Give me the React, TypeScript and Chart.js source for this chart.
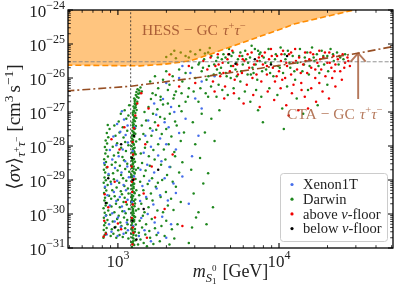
import { useEffect, useRef } from 'react';
import { Chart, registerables } from 'chart.js';

Chart.register(...registerables);

// ---------- axis ranges & ticks ----------
const X_MIN = 490;
const X_MAX = 51000;
const Y_MIN = 1e-31;
const Y_MAX = 1e-24;
const xMajorExps = [3, 4];
const yMajorExps = [-31, -30, -29, -28, -27, -26, -25, -24];

// ---------- reference lines (log10 GeV, log10 cm^3/s) ----------
const relicLevel = 3e-26;
const vLineMass = 1200;
const hessCurve: [number, number][] = [
  [2.68, -25.622], [3.0, -25.637], [3.1375, -25.643], [3.294, -25.593], [3.45, -25.496],
  [3.575, -25.298], [3.719, -25.053], [3.8875, -24.767], [4.0125, -24.56], [4.094, -24.413],
  [4.306, -24.177], [4.494, -23.97], [4.64, -23.79],
];
const ctaCurve: [number, number][] = [
  [2.68, -26.38], [3.081, -26.242], [3.5125, -25.976], [3.8875, -25.711], [4.1375, -25.534],
  [4.494, -25.268], [4.72, -25.062],
];
const arrowMass = 3.1e4;
const arrowFrom = 2.4e-27;
const arrowTo = 5.4e-26;

const hessLabel = 'HESS − GC';
const ctaLabel = 'CTA − GC';
const legendLabels = ['Xenon1T', 'Darwin', 'above ν-floor', 'below ν-floor'];

// ---------- scan points (log10 m [GeV], log10 <σv>) ----------
const darwinPts: [number, number][] = [
  // dense column just above 1.2 TeV
  [3.087,-30.97],[3.101,-30.91],[3.093,-30.86],[3.084,-30.83],[3.109,-30.77],[3.096,-30.72],[3.089,-30.69],[3.113,-30.63],[3.083,-30.58],[3.098,-30.55],
  [3.091,-30.49],[3.106,-30.44],[3.086,-30.41],[3.095,-30.37],[3.111,-30.31],[3.088,-30.26],[3.100,-30.22],[3.084,-30.17],[3.093,-30.13],[3.107,-30.09],
  [3.090,-30.03],[3.097,-29.98],[3.085,-29.96],[3.112,-29.90],[3.094,-29.85],[3.087,-29.80],[3.103,-29.77],[3.091,-29.71],[3.083,-29.66],[3.099,-29.62],
  [3.108,-29.57],[3.089,-29.53],[3.095,-29.47],[3.086,-29.44],[3.104,-29.39],[3.092,-29.33],[3.114,-29.30],[3.088,-29.26],[3.097,-29.20],[3.084,-29.16],
  [3.101,-29.11],[3.093,-29.07],[3.090,-29.01],[3.109,-28.97],[3.086,-28.92],[3.096,-28.88],[3.083,-28.84],[3.102,-28.78],[3.091,-28.74],[3.112,-28.70],
  [3.088,-28.65],[3.098,-28.60],[3.085,-28.57],[3.094,-28.51],[3.106,-28.46],[3.089,-28.42],[3.100,-28.38],[3.084,-28.33],[3.095,-28.28],[3.110,-28.24],
  [3.087,-28.19],[3.097,-28.14],[3.092,-28.10],[3.104,-28.05],[3.085,-28.01],[3.099,-27.96],[3.090,-27.91],[3.113,-27.87],[3.094,-27.82],[3.087,-27.78],
  [3.101,-27.73],[3.092,-27.68],[3.108,-27.64],[3.096,-27.59],[3.089,-27.55],[3.103,-27.50],[3.094,-27.45],[3.111,-27.41],[3.098,-27.36],[3.091,-27.31],
  [3.105,-27.27],[3.096,-27.22],[3.114,-27.18],[3.100,-27.13],[3.093,-27.08],[3.108,-27.03],[3.099,-26.98],[3.116,-26.94],[3.103,-26.89],[3.097,-26.84],
  [3.112,-26.79],[3.105,-26.74],[3.120,-26.70],[3.108,-26.64],[3.101,-26.60],[3.118,-26.55],[3.111,-26.50],[3.126,-26.46],[3.115,-26.41],[3.132,-26.37],
  [3.122,-26.33],[3.140,-26.28],[3.135,-26.45],[3.148,-26.40],[3.128,-26.58],
  [3.094,-30.80],[3.105,-30.52],[3.087,-30.33],[3.099,-30.06],[3.092,-29.88],[3.106,-29.69],[3.085,-29.50],[3.097,-29.24],[3.090,-28.99],[3.104,-28.81],
  [3.093,-28.53],[3.086,-28.36],[3.102,-28.17],[3.095,-27.93],[3.088,-27.70],[3.106,-27.48],[3.099,-27.25],[3.092,-27.02],[3.110,-26.86],[3.104,-26.68],
  [3.096,-30.62],[3.089,-30.45],[3.101,-30.18],[3.094,-29.92],[3.087,-29.59],[3.100,-29.36],[3.092,-29.13],[3.085,-28.89],[3.097,-28.67],[3.090,-28.44],
  [3.103,-28.21],[3.096,-28.07],[3.089,-27.85],[3.100,-27.62],[3.093,-27.39],[3.104,-27.16],[3.097,-26.96],[3.107,-26.77],
  // left cluster, dense left edge
  [2.910,-30.70],[2.918,-30.62],[2.925,-30.55],[2.912,-30.47],[2.930,-30.41],[2.915,-30.33],[2.922,-30.26],[2.935,-30.18],[2.913,-30.11],[2.927,-30.04],
  [2.918,-29.96],[2.940,-29.90],[2.911,-29.83],[2.924,-29.75],[2.932,-29.68],[2.916,-29.60],[2.920,-29.52],[2.945,-29.46],[2.914,-29.38],[2.928,-29.31],
  [2.919,-29.23],[2.936,-29.15],[2.912,-29.08],[2.925,-29.01],[2.917,-28.93],[2.942,-28.86],[2.921,-28.78],[2.913,-28.70],[2.930,-28.63],[2.918,-28.55],
  [2.926,-28.47],[2.915,-28.39],[2.938,-28.31],[2.922,-28.22],[2.929,-28.12],[2.919,-28.03],[2.933,-27.93],[2.924,-27.84],[2.940,-27.74],[2.931,-27.62],
  [2.948,-27.50],[2.937,-27.38],
  // left cluster, interior
  [2.955,-30.65],[2.972,-30.58],[2.990,-30.70],[3.010,-30.62],[3.030,-30.68],[3.050,-30.55],[3.065,-30.72],[2.962,-30.45],[2.985,-30.38],[3.002,-30.48],
  [3.022,-30.35],[3.045,-30.42],[3.060,-30.30],[2.968,-30.22],[2.995,-30.15],[3.015,-30.25],[3.038,-30.10],[3.058,-30.18],[2.952,-30.02],[2.978,-29.95],
  [3.005,-30.05],[3.028,-29.92],[3.048,-29.98],[3.068,-29.85],[2.960,-29.78],[2.988,-29.70],[3.012,-29.80],[3.035,-29.65],[3.055,-29.72],[2.958,-29.55],
  [2.980,-29.48],[3.000,-29.58],[3.025,-29.42],[3.042,-29.52],[3.066,-29.40],[2.965,-29.30],[2.992,-29.22],[3.018,-29.33],[3.040,-29.18],[3.062,-29.25],
  [2.955,-29.05],[2.975,-28.98],[3.008,-29.08],[3.032,-28.95],[3.052,-29.02],[2.970,-28.80],[2.998,-28.72],[3.020,-28.85],[3.045,-28.68],[3.070,-28.76],
  [2.962,-28.55],[2.985,-28.48],[3.012,-28.58],[3.038,-28.42],[3.058,-28.52],[2.975,-28.28],[3.002,-28.20],[3.028,-28.32],[3.050,-28.15],[2.968,-28.02],
  [2.995,-27.92],[3.020,-28.05],[3.045,-27.88],[3.065,-27.98],[2.985,-27.70],[3.010,-27.60],[3.035,-27.75],[3.058,-27.55],[2.978,-27.40],[3.005,-27.28],
  [3.030,-27.45],[3.052,-27.20],[3.018,-27.05],[3.042,-26.95],[3.065,-27.10],[3.070,-26.80],
  // spread to the right of the column
  [3.125,-30.90],[3.140,-30.75],[3.160,-30.85],[3.180,-30.95],[3.200,-30.70],[3.130,-30.55],[3.150,-30.40],[3.170,-30.60],[3.195,-30.50],[3.220,-30.88],
  [3.240,-30.62],[3.135,-30.20],[3.155,-30.05],[3.175,-30.30],[3.210,-30.15],[3.230,-30.42],[3.128,-29.85],[3.145,-29.70],[3.165,-29.95],[3.190,-29.80],
  [3.215,-29.60],[3.245,-29.90],[3.132,-29.45],[3.158,-29.30],[3.178,-29.55],[3.205,-29.40],[3.235,-29.20],[3.138,-29.05],[3.162,-28.88],[3.185,-29.12],
  [3.212,-28.95],[3.248,-29.08],[3.126,-28.65],[3.150,-28.50],[3.172,-28.72],[3.198,-28.58],[3.228,-28.40],[3.142,-28.22],[3.168,-28.05],[3.192,-28.30],
  [3.220,-28.12],[3.250,-27.95],[3.135,-27.80],[3.158,-27.65],[3.182,-27.88],[3.208,-27.70],[3.238,-27.52],[3.148,-27.40],[3.175,-27.25],[3.200,-27.48],
  [3.230,-27.30],[3.262,-27.15],[3.165,-27.00],[3.190,-26.85],[3.218,-27.05],[3.245,-26.92],[3.280,-26.78],[3.205,-26.62],[3.235,-26.50],[3.265,-26.65],
  [3.260,-30.80],[3.290,-30.65],[3.320,-30.90],[3.350,-30.72],[3.270,-30.35],[3.300,-30.20],[3.335,-30.45],[3.370,-30.30],[3.280,-29.95],[3.310,-29.75],
  [3.345,-29.88],[3.390,-29.65],[3.265,-29.50],[3.298,-29.35],[3.330,-29.55],[3.360,-29.20],[3.275,-29.00],[3.305,-28.85],[3.340,-29.05],[3.380,-28.78],
  [3.268,-28.55],[3.295,-28.40],[3.325,-28.62],[3.355,-28.30],[3.400,-28.48],[3.285,-28.10],[3.315,-27.95],[3.350,-28.18],[3.390,-27.85],[3.272,-27.65],
  [3.300,-27.50],[3.332,-27.72],[3.365,-27.40],[3.410,-27.60],[3.290,-27.20],[3.322,-27.05],[3.355,-27.28],[3.395,-26.98],[3.310,-26.75],[3.345,-26.60],
  [3.380,-26.82],[3.420,-26.70],
  [3.460,-30.40],[3.500,-29.95],[3.470,-29.40],[3.530,-29.10],[3.455,-28.70],[3.510,-28.35],[3.560,-28.80],[3.480,-27.95],[3.540,-27.60],[3.600,-27.85],
  [3.465,-27.30],[3.520,-27.05],[3.580,-27.20],[3.630,-26.95],[3.500,-26.70],[3.560,-26.55],[3.440,-30.85],[3.485,-30.10],[3.590,-29.80],[3.550,-30.30],
  // upper band
  [3.200,-26.10],[3.230,-25.95],[3.250,-26.30],[3.280,-26.05],[3.300,-25.80],[3.320,-26.20],[3.340,-25.95],[3.360,-26.40],[3.380,-25.75],[3.400,-26.10],
  [3.420,-25.85],[3.440,-26.30],[3.460,-25.70],[3.480,-26.00],[3.500,-25.60],[3.215,-26.45],[3.265,-26.55],[3.310,-26.35],[3.350,-26.50],[3.395,-26.45],
  [3.435,-26.55],[3.470,-26.40],
  [3.300,-25.38],[3.330,-25.30],[3.360,-25.42],[3.390,-25.25],[3.420,-25.35],[3.450,-25.22],[3.480,-25.30],[3.510,-25.18],[3.540,-25.28],[3.570,-25.12],
  [3.350,-25.20],[3.440,-25.40],
  [3.505,-25.55],[3.520,-25.80],[3.535,-25.45],[3.550,-26.05],[3.565,-25.65],[3.580,-25.35],[3.595,-25.90],[3.610,-25.50],[3.625,-26.20],[3.640,-25.70],
  [3.655,-25.30],[3.670,-25.85],[3.685,-25.55],[3.700,-26.00],[3.715,-25.25],[3.730,-25.75],[3.745,-25.45],[3.760,-26.10],[3.775,-25.60],[3.790,-25.20],
  [3.805,-25.90],[3.820,-25.40],[3.835,-25.70],[3.850,-25.15],[3.865,-26.05],[3.880,-25.50],[3.895,-25.80],[3.512,-26.30],[3.545,-26.45],[3.578,-26.25],
  [3.612,-26.55],[3.648,-26.35],[3.682,-26.50],[3.718,-26.30],[3.752,-26.60],[3.788,-26.40],[3.822,-26.70],[3.858,-26.35],[3.890,-26.55],[3.528,-25.70],
  [3.562,-25.95],[3.598,-25.60],[3.632,-25.85],[3.668,-25.40],[3.702,-25.65],[3.738,-25.95],[3.772,-25.35],[3.808,-25.55],[3.842,-25.85],[3.878,-25.30],
  [3.560,-25.25],[3.620,-25.40],[3.690,-25.15],[3.760,-25.25],[3.830,-25.05],[3.870,-25.20],
  [3.615,-25.75],[3.645,-25.45],[3.675,-25.95],[3.705,-25.35],[3.735,-25.55],[3.765,-25.80],[3.795,-25.45],[3.825,-25.90],[3.855,-25.60],[3.885,-25.25],
  [3.905,-25.40],[3.920,-25.75],[3.935,-25.15],[3.950,-25.55],[3.965,-25.95],[3.980,-25.30],[3.995,-25.65],[4.010,-25.10],[4.025,-25.85],[4.040,-25.45],
  [4.055,-25.20],[4.070,-25.70],[4.085,-25.35],[4.100,-26.05],[4.115,-25.55],[4.130,-25.15],[4.145,-25.80],[4.160,-25.40],[4.175,-25.25],[4.190,-25.65],
  [4.205,-25.10],[4.220,-25.50],[4.235,-25.30],[4.250,-25.85],[4.265,-25.20],[4.280,-25.60],[4.300,-25.35],[4.320,-25.15],[4.340,-25.50],[4.360,-25.25],
  [4.380,-25.40],[4.410,-25.30],[3.940,-26.30],[3.990,-26.50],[4.050,-26.25],[4.110,-26.60],[4.180,-26.35],[4.240,-26.80],[4.300,-26.20],[4.020,-26.90],
  [4.150,-27.05],[4.030,-27.50],[3.900,-27.30],[3.870,-26.95],
  [3.915,-25.55],[3.945,-25.85],[3.975,-25.45],[4.005,-25.70],[4.035,-25.30],[4.065,-25.55],[4.095,-25.80],[4.125,-25.35],[4.155,-25.60],[4.185,-25.90],
  [4.215,-25.40],[4.245,-25.65],[4.275,-25.35],[4.305,-25.80],[4.335,-25.30],[4.370,-25.60],[4.400,-25.45],
];

const xenon1TPts: [number, number][] = [
  [2.930,-30.60],[2.960,-30.52],[2.998,-30.65],[3.035,-30.58],[3.062,-30.48],[2.945,-30.30],[2.980,-30.22],[3.018,-30.38],[3.055,-30.25],[2.925,-30.05],
  [2.965,-29.98],[3.000,-30.10],[3.040,-29.92],[2.950,-29.75],[2.990,-29.62],[3.025,-29.78],[3.060,-29.58],[2.935,-29.45],[2.975,-29.35],[3.012,-29.50],
  [3.050,-29.30],[2.958,-29.12],[2.995,-29.02],[3.035,-29.15],[3.068,-28.92],[2.942,-28.82],[2.982,-28.65],[3.022,-28.78],[3.058,-28.60],[2.965,-28.40],
  [3.005,-28.30],[3.045,-28.45],[2.950,-28.12],[2.990,-27.98],[3.030,-28.10],[3.062,-27.90],[2.972,-27.72],[3.015,-27.58],[3.048,-27.68],[2.995,-27.35],
  [3.038,-27.22],[3.060,-27.40],[3.025,-26.98],[2.920,-29.20],[2.915,-28.50],
  [3.095,-30.35],[3.088,-29.65],[3.100,-28.90],[3.092,-28.15],[3.105,-27.45],
  [3.130,-30.65],[3.165,-30.48],[3.205,-30.80],[3.250,-30.55],[3.300,-30.70],[3.145,-30.12],[3.185,-30.00],[3.228,-30.25],[3.275,-30.08],[3.330,-30.30],
  [3.138,-29.62],[3.175,-29.50],[3.220,-29.72],[3.262,-29.45],[3.310,-29.60],[3.360,-29.38],[3.152,-29.18],[3.195,-29.02],[3.240,-29.25],[3.290,-28.95],
  [3.345,-29.10],[3.140,-28.70],[3.182,-28.55],[3.225,-28.78],[3.270,-28.45],[3.320,-28.62],[3.400,-28.90],[3.160,-28.20],[3.205,-28.02],[3.250,-28.28],
  [3.300,-27.95],[3.360,-28.10],[3.170,-27.70],[3.215,-27.55],[3.262,-27.78],[3.315,-27.45],[3.380,-27.62],[3.188,-27.25],[3.238,-27.08],[3.290,-27.30],
  [3.350,-27.00],[3.420,-27.20],[3.225,-26.75],[3.280,-26.62],[3.330,-26.85],[3.460,-28.30],[3.500,-27.70],[3.440,-29.70],[3.520,-26.90],[3.480,-26.60],
  [3.300,-26.15],[3.380,-26.00],[3.450,-25.85],[3.520,-26.10],[3.600,-25.95],[3.400,-25.65],
];

const aboveFloorPts: [number, number][] = [
  [3.090,-30.90],[3.096,-30.55],[3.086,-30.12],[3.093,-29.72],[3.089,-29.35],[3.098,-28.98],[3.085,-28.60],[3.094,-28.25],[3.091,-27.88],[3.099,-27.48],
  [3.108,-27.10],[3.120,-26.75],[3.145,-26.45],[3.092,-30.40],[3.087,-29.05],
  [2.925,-30.58],[2.915,-30.20],[2.940,-29.80],[2.918,-29.42],[2.980,-29.05],[3.020,-30.45],[3.050,-29.65],[2.935,-28.62],[3.010,-28.10],[2.960,-27.80],
  [3.040,-27.45],[2.912,-30.66],[3.000,-30.28],
  [3.180,-30.70],[3.230,-30.10],[3.160,-29.40],[3.290,-29.85],[3.210,-28.60],[3.340,-28.25],[3.170,-27.95],[3.250,-27.40],[3.400,-30.35],[3.190,-26.90],
  [3.320,-25.90],[3.380,-26.25],[3.440,-25.65],[3.480,-26.15],[3.530,-25.50],
  [3.555,-25.75],[3.575,-25.40],[3.590,-26.10],[3.605,-25.65],[3.620,-25.30],[3.635,-25.95],[3.650,-25.55],[3.665,-26.25],[3.680,-25.45],[3.695,-25.80],
  [3.710,-25.20],[3.725,-26.05],[3.740,-25.60],[3.755,-25.35],[3.770,-25.85],[3.785,-25.50],[3.800,-26.20],[3.815,-25.70],[3.830,-25.25],[3.845,-25.60],
  [3.860,-25.90],[3.875,-25.40],[3.890,-26.10],[3.600,-26.40],[3.660,-26.60],[3.720,-26.45],[3.780,-26.75],[3.840,-26.50],[3.880,-26.85],
  [3.900,-25.60],[3.912,-25.25],[3.925,-25.90],[3.938,-25.45],[3.950,-25.15],[3.962,-25.70],[3.975,-26.10],[3.988,-25.35],[4.000,-25.80],[4.012,-25.50],
  [4.025,-25.20],[4.038,-26.00],[4.050,-25.65],[4.062,-25.30],[4.075,-25.90],[4.088,-25.55],[4.100,-25.15],[4.112,-25.75],[4.125,-25.40],[4.138,-26.15],
  [4.150,-25.60],[4.162,-25.25],[4.175,-25.85],[4.188,-25.45],[4.200,-25.70],[4.212,-25.30],[4.225,-26.00],[4.238,-25.55],[4.250,-25.20],[4.262,-25.75],
  [4.275,-25.40],[4.288,-25.95],[4.300,-25.55],[4.312,-25.25],[4.325,-25.70],[4.338,-25.35],[4.350,-25.60],[4.365,-25.45],[4.380,-25.80],[4.395,-25.30],
  [4.410,-25.55],[4.425,-25.40],[4.440,-25.65],
  [3.930,-26.40],[3.970,-26.65],[4.010,-26.30],[4.045,-26.80],[4.080,-26.45],[4.120,-26.95],[4.160,-26.55],[4.200,-26.30],[4.230,-26.70],[4.270,-26.40],
  [4.310,-26.60],[4.350,-26.25],[4.390,-26.05],[4.060,-27.10],[4.180,-26.90],[4.020,-26.05],[4.090,-26.20],[4.140,-26.35],[4.250,-26.15],[4.330,-26.00],
  [3.625,-25.60],[3.655,-25.85],[3.685,-25.30],[3.715,-25.65],[3.745,-25.90],[3.775,-25.45],[3.805,-25.30],[3.835,-26.00],[3.865,-25.50],[3.895,-25.35],
  [3.925,-25.65],[3.955,-25.35],[3.985,-25.95],[4.015,-25.30],[4.045,-25.55],[4.075,-25.25],[4.105,-25.50],[4.135,-25.85],[4.165,-25.50],[4.195,-25.25],
  [4.225,-25.75],[4.255,-25.45],[4.285,-25.25],[4.315,-25.55],[4.345,-25.80],[4.375,-25.35],[4.405,-25.70],[4.430,-25.50],
];

const belowFloorPts: [number, number][] = [
  [3.090,-30.20],[3.095,-29.00],[3.088,-28.35],[2.940,-28.95],[2.980,-30.40],[3.020,-27.95],[3.160,-29.85],[3.250,-28.70],[3.100,-27.70],[3.730,-25.58],
  [3.850,-25.45],[3.950,-25.60],[4.050,-25.35],[3.690,-25.30],[3.115,-30.75],[2.925,-29.68],
];

// ---------- styling ----------
const COL_XENON = 'rgb(70,110,235)';
const COL_DARWIN = 'rgb(30,135,30)';
const COL_ABOVE = 'rgb(240,0,0)';
const COL_BELOW = 'rgb(0,0,0)';
const SERIF = '"Liberation Serif", "DejaVu Serif", serif';

const toXY = (pts: [number, number][]) => pts.map(([a, b]) => ({ x: Math.pow(10, a), y: Math.pow(10, b) }));

type Part = { t: string; s: number; dy?: number; it?: boolean; adv?: boolean; gap?: number };

function fontOf(p: Part) {
  return `${p.it ? 'italic ' : ''}${p.s}px ${SERIF}`;
}
function richWidth(ctx: CanvasRenderingContext2D, parts: Part[]) {
  let w = 0;
  for (const p of parts) {
    ctx.font = fontOf(p);
    if (p.adv !== false) w += ctx.measureText(p.t).width + (p.gap || 0);
  }
  return w;
}
function drawRich(ctx: CanvasRenderingContext2D, parts: Part[], x: number, y: number, align: 'left' | 'center' | 'right') {
  const w = richWidth(ctx, parts);
  let cx = align === 'left' ? x : align === 'center' ? x - w / 2 : x - w;
  ctx.textAlign = 'left';
  ctx.textBaseline = 'alphabetic';
  for (const p of parts) {
    ctx.font = fontOf(p);
    ctx.fillText(p.t, cx, y + (p.dy || 0));
    if (p.adv !== false) cx += ctx.measureText(p.t).width + (p.gap || 0);
  }
}

const decorPlugin = {
  id: 'decor',
  afterDraw(chart: any) {
    const ctx: CanvasRenderingContext2D = chart.ctx;
    const a = chart.chartArea;
    const xs = chart.scales.x;
    const ys = chart.scales.y;
    ctx.save();

    // arrow for CTA
    const axp = xs.getPixelForValue(arrowMass);
    const ay0 = ys.getPixelForValue(arrowFrom);
    const ay1 = ys.getPixelForValue(arrowTo);
    ctx.strokeStyle = 'rgba(160,82,45,0.78)';
    ctx.lineWidth = 1.9;
    ctx.beginPath();
    ctx.moveTo(axp, ay0);
    ctx.lineTo(axp, ay1);
    ctx.moveTo(axp - 7.5, ay1 + 8.5);
    ctx.lineTo(axp, ay1);
    ctx.lineTo(axp + 7.5, ay1 + 8.5);
    ctx.stroke();

    // annotation labels
    const tauParts = (lead: string): Part[] => [
      { t: lead, s: 15.5, gap: 5 },
      { t: 'τ', s: 15.5, it: true },
      { t: '+', s: 10.5, dy: -6.5 },
      { t: 'τ', s: 15.5, it: true },
      { t: '−', s: 10.5, dy: -6.5 },
    ];
    ctx.fillStyle = 'rgba(160,82,45,0.88)';
    drawRich(ctx, tauParts(hessLabel), a.left + 74, a.top + 25, 'left');
    ctx.fillStyle = 'rgba(160,82,45,0.78)';
    drawRich(ctx, tauParts(ctaLabel), a.right - 106, a.top + 109, 'left');

    // frame
    ctx.strokeStyle = '#000';
    ctx.lineWidth = 1.3;
    ctx.strokeRect(a.left, a.top, a.right - a.left, a.bottom - a.top);

    // ticks (inward, all four sides)
    const tick = (vert: boolean, pos: number, len: number, w: number) => {
      ctx.lineWidth = w;
      ctx.beginPath();
      if (vert) {
        ctx.moveTo(pos, a.bottom); ctx.lineTo(pos, a.bottom - len);
        ctx.moveTo(pos, a.top); ctx.lineTo(pos, a.top + len);
      } else {
        ctx.moveTo(a.left, pos); ctx.lineTo(a.left + len, pos);
        ctx.moveTo(a.right, pos); ctx.lineTo(a.right - len, pos);
      }
      ctx.stroke();
    };
    for (let e = 2; e <= 4; e++) {
      for (let k = 1; k <= 9; k++) {
        const v = k * Math.pow(10, e);
        if (v <= X_MIN || v >= X_MAX) continue;
        const p = xs.getPixelForValue(v);
        if (k === 1) tick(true, p, 5, 1.1); else tick(true, p, 2.8, 0.8);
      }
    }
    for (let e = -31; e <= -24; e++) {
      for (let k = 1; k <= 9; k++) {
        const v = k * Math.pow(10, e);
        if (v < Y_MIN * 0.999 || v > Y_MAX * 1.001) continue;
        const p = ys.getPixelForValue(v);
        if (k === 1) tick(false, p, 5, 1.1); else tick(false, p, 2.8, 0.8);
      }
    }

    // tick labels
    ctx.fillStyle = '#222';
    for (const e of yMajorExps) {
      const p = ys.getPixelForValue(Math.pow(10, e));
      drawRich(ctx, [
        { t: '10', s: 17 },
        { t: '−' + Math.abs(e), s: 12, dy: -7.5 },
      ], a.left - 3, p + 6.6, 'right');
    }
    for (const e of xMajorExps) {
      const p = xs.getPixelForValue(Math.pow(10, e));
      drawRich(ctx, [
        { t: '10', s: 17 },
        { t: String(e), s: 12, dy: -8 },
      ], p, a.bottom + 19, 'center');
    }

    // axis titles
    drawRich(ctx, [
      { t: 'm', s: 18, it: true },
      { t: 'S', s: 12.5, it: true, dy: 4.5 },
      { t: '0', s: 9, dy: -6, adv: false },
      { t: '1', s: 9, dy: 7, gap: 6 },
      { t: '[GeV]', s: 18 },
    ], (a.left + a.right) / 2, a.bottom + 29, 'center');

    ctx.save();
    ctx.translate(20, (a.top + a.bottom) / 2 - 2);
    ctx.rotate(-Math.PI / 2);
    drawRich(ctx, [
      { t: '⟨', s: 19 },
      { t: 'σv', s: 19, it: true },
      { t: '⟩', s: 19 },
      { t: 'τ', s: 13.5, it: true, dy: 5 },
      { t: '+', s: 9.5, dy: -0.5 },
      { t: 'τ', s: 13.5, it: true, dy: 5 },
      { t: '−', s: 9.5, dy: -0.5, gap: 5 },
      { t: '[cm', s: 19 },
      { t: '3', s: 13.5, dy: -7.5, gap: 3 },
      { t: 's', s: 19 },
      { t: '−1', s: 13.5, dy: -7.5 },
      { t: ']', s: 19 },
    ], 0, 0, 'center');
    ctx.restore();

    // legend
    const bw = 107, bh = 68;
    const bx = a.right - 6 - bw, by = a.bottom - 7 - bh;
    ctx.fillStyle = 'rgba(255,255,255,0.85)';
    ctx.strokeStyle = 'rgba(204,204,204,1)';
    ctx.lineWidth = 1;
    ctx.beginPath();
    (ctx as any).roundRect(bx + 0.5, by + 0.5, bw, bh, 3);
    ctx.fill();
    ctx.stroke();
    const cols = [COL_XENON, COL_DARWIN, COL_ABOVE, COL_BELOW];
    legendLabels.forEach((lab, i) => {
      const cy = by + 11.5 + i * 14.7;
      ctx.fillStyle = cols[i];
      ctx.beginPath();
      ctx.arc(bx + 12, cy, 1.6, 0, Math.PI * 2);
      ctx.fill();
      ctx.fillStyle = '#222';
      const nu = lab.indexOf('ν');
      if (nu >= 0) {
        drawRich(ctx, [
          { t: lab.slice(0, nu), s: 14.5 },
          { t: 'ν', s: 14.5, it: true },
          { t: lab.slice(nu + 1), s: 14.5 },
        ], bx + 23, cy + 4.8, 'left');
      } else {
        drawRich(ctx, [{ t: lab, s: 14.5 }], bx + 23, cy + 4.8, 'left');
      }
    });

    ctx.restore();
  },
};

export default function App() {
  const ref = useRef<HTMLCanvasElement | null>(null);
  useEffect(() => {
    if (!ref.current) return;
    const pointSet = (label: string, pts: [number, number][], color: string) => ({
      label,
      data: toXY(pts),
      backgroundColor: color,
      borderWidth: 0,
      pointRadius: 1.25,
      pointHoverRadius: 1.25,
      showLine: false,
    });
    const chart = new Chart(ref.current, {
      type: 'scatter',
      data: {
        datasets: [
          {
            label: 'relic',
            data: [{ x: X_MIN * 0.9, y: relicLevel }, { x: X_MAX * 1.1, y: relicLevel }],
            showLine: true, pointRadius: 0, borderColor: 'rgba(128,128,128,0.85)', borderWidth: 1, borderDash: [4, 2],
          } as any,
          {
            label: 'vline',
            data: [{ x: vLineMass, y: Y_MIN * 0.5 }, { x: vLineMass, y: Y_MAX * 2 }],
            showLine: true, pointRadius: 0, borderColor: 'rgba(40,40,40,0.8)', borderWidth: 1, borderDash: [2, 2],
          } as any,
          {
            label: 'CTA',
            data: toXY(ctaCurve),
            showLine: true, pointRadius: 0, borderColor: 'rgb(150,78,35)', borderWidth: 1.6, borderDash: [8, 3, 2, 3],
          } as any,
          {
            label: 'HESS',
            data: toXY(hessCurve),
            showLine: true, pointRadius: 0, borderColor: 'rgb(255,140,0)', borderWidth: 1.6, borderDash: [6, 3],
            fill: 'end', backgroundColor: 'rgba(255,140,0,0.5)',
          } as any,
          pointSet(legendLabels[3], belowFloorPts, COL_BELOW),
          pointSet(legendLabels[2], aboveFloorPts, COL_ABOVE),
          pointSet(legendLabels[0], xenon1TPts, COL_XENON),
          pointSet(legendLabels[1], darwinPts, COL_DARWIN),
        ],
      },
      options: {
        animation: false,
        responsive: false,
        devicePixelRatio: 1,
        layout: { padding: { left: 0, right: 6, top: 10, bottom: 0 } },
        plugins: { legend: { display: false }, tooltip: { enabled: false } },
        scales: {
          x: {
            type: 'logarithmic', min: X_MIN, max: X_MAX,
            grid: { display: false }, border: { display: false }, ticks: { display: false },
            afterFit: (s: any) => { s.height = 52; },
          },
          y: {
            type: 'logarithmic', min: Y_MIN, max: Y_MAX,
            grid: { display: false }, border: { display: false }, ticks: { display: false },
            afterFit: (s: any) => { s.width = 68; },
          },
        },
      } as any,
      plugins: [decorPlugin],
    });
    return () => chart.destroy();
  }, []);
  return (
    <div style={{ position: 'absolute', left: 0, top: 0, width: 399, height: 300, background: '#fff' }}>
      <canvas ref={ref} width={399} height={300} style={{ display: 'block', width: 399, height: 300 }} />
    </div>
  );
}
